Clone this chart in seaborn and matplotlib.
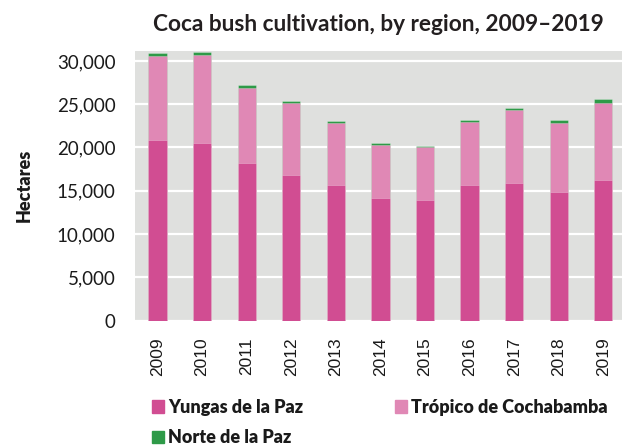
import matplotlib
matplotlib.use("Agg")
import matplotlib.pyplot as plt
from matplotlib.patches import Patch
import seaborn as sns
import pandas as pd

# data (hectares)
years = ["2009", "2010", "2011", "2012", "2013", "2014", "2015", "2016", "2017", "2018", "2019"]
yungas = [20900, 20500, 18200, 16800, 15700, 14200, 13900, 15700, 15900, 14900, 16200]
tropico = [9700, 10200, 8700, 8300, 7100, 6100, 6100, 7200, 8400, 7900, 8900]
norte = [320, 380, 300, 270, 250, 230, 180, 250, 250, 350, 450]

c_yungas = "#D14D92"
c_tropico = "#E088B5"
c_norte = "#2E9A48"

df = pd.DataFrame({"year": years, "yungas": yungas, "tropico": tropico, "norte": norte})
# cumulative tops so the stacks can be drawn back to front
df["top_tropico"] = df["yungas"] + df["tropico"]
df["top_norte"] = df["top_tropico"] + df["norte"]

sns.set_theme(style="white")
plt.rcParams["font.family"] = ["Lato", "DejaVu Sans"]

fig = plt.figure(figsize=(6.26, 4.45), dpi=100)
ax = fig.add_axes([0.2157, 0.2795, 0.778, 0.606])
ax.set_facecolor("#DFE0DE")

edge = (1, 1, 1, 0.3)
for col, c in [("top_norte", c_norte), ("top_tropico", c_tropico), ("yungas", c_yungas)]:
    sns.barplot(data=df, x="year", y=col, color=c, width=0.41, ax=ax,
                edgecolor=edge, linewidth=0.6, saturation=1)

ax.set_ylim(0, 31150)
ax.set_xlim(-0.505, 10.42)
ax.set_yticks(range(0, 30001, 5000))
ax.yaxis.set_major_formatter(matplotlib.ticker.FuncFormatter(lambda v, p: f"{int(v):,}"))
ax.grid(axis="y", color="white", linewidth=1.6)
ax.set_axisbelow(True)
for s in ax.spines.values():
    s.set_visible(False)
ax.tick_params(axis="both", length=0, colors="#1a1a1a")
ax.tick_params(axis="y", labelsize=13.5, pad=14)
ax.tick_params(axis="x", rotation=90, pad=12)
for t in ax.get_xticklabels():
    t.set_fontfamily(["Liberation Sans", "DejaVu Sans"])
    t.set_fontsize(12.5)
ax.set_xlabel("")
ax.set_ylabel("Hectares", fontsize=13, fontweight="heavy", labelpad=17, color="#1a1a1a")

fig.text(0.605, 0.944, "Coca bush cultivation, by region, 2009\u20132019",
         ha="center", va="center", fontsize=16.3, fontweight="bold", color="#231F20")

handles = [Patch(color=c_yungas, label="Yungas de la Paz"),
           Patch(color=c_norte, label="Norte de la Paz"),
           Patch(color=c_tropico, label="Tr\u00f3pico de Cochabamba")]
leg = fig.legend(handles=handles, ncol=2, loc="upper left", bbox_to_anchor=(0.243, 0.104),
                 frameon=False, handlelength=0.67, handleheight=0.67, handletextpad=0.22,
                 columnspacing=5.1, labelspacing=0.75, borderpad=0, borderaxespad=0,
                 prop={"weight": "heavy", "size": 13})
for t in leg.get_texts():
    t.set_color("#1a1a1a")

fig.savefig("out.png", dpi=100)
